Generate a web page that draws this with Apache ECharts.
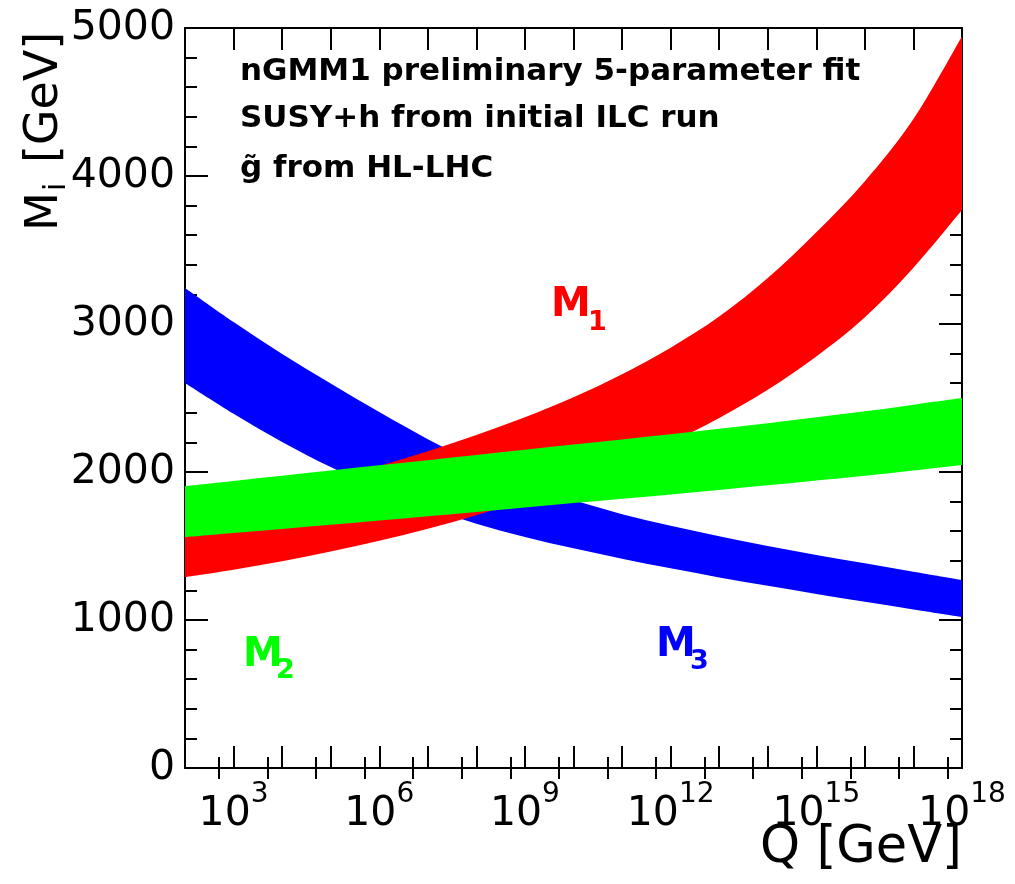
<!DOCTYPE html>
<html>
<head>
<meta charset="utf-8">
<script src="https://cdn.jsdelivr.net/npm/echarts@6/dist/echarts.min.js"></script>
<style>
  html, body { margin: 0; padding: 0; background: #fff; }
  #chart { width: 1015px; height: 884px; }
</style>
</head>
<body>
<div id="chart"></div>
<script>
// Scale Q as log10(Q / GeV)
const logQ = [2, 3, 4, 5, 6, 7, 8, 9, 10, 11, 12, 13, 14, 15, 16, 17, 18];

// M1 band (GeV)
const m1Upper = [1710, 1785, 1862, 1945, 2040, 2140, 2250, 2370, 2505, 2660, 2840, 3050, 3310, 3620, 3965, 4385, 4945];
const m1Lower = [1290, 1340, 1397, 1462, 1535, 1617, 1708, 1810, 1925, 2055, 2200, 2365, 2555, 2780, 3045, 3380, 3770];

// M2 band (GeV)
const m2Upper = [1905, 1940, 1975, 2010, 2045, 2080, 2115, 2150, 2185, 2220, 2255, 2292, 2330, 2370, 2410, 2455, 2500];
const m2Lower = [1560, 1588, 1615, 1643, 1672, 1701, 1730, 1760, 1790, 1819, 1848, 1879, 1910, 1942, 1975, 2010, 2047];

// M3 band (GeV)
const m3Upper = [3243, 3013, 2798, 2598, 2405, 2222, 2062, 1925, 1810, 1715, 1636, 1566, 1500, 1440, 1383, 1326, 1270];
const m3Lower = [2601, 2393, 2203, 2033, 1885, 1758, 1651, 1561, 1484, 1414, 1349, 1288, 1231, 1176, 1123, 1071, 1020];

// Labelled decades on the Q axis
const labelledExponents = [3, 6, 9, 12, 15, 18];

// Small ticks at 5·10^n
const minorTicks = logQ.slice(0, -1).map(n => n + Math.log10(5));

const FONT = '"DejaVu Sans", "Liberation Sans", Arial, sans-serif';
const BLACK = '#000';

// Smooth curve through pixel points (Catmull-Rom written as cubic Beziers)
function curveThrough(pts) {
  let d = '';
  for (let i = 0; i < pts.length - 1; i++) {
    const p0 = pts[Math.max(i - 1, 0)];
    const p1 = pts[i];
    const p2 = pts[i + 1];
    const p3 = pts[Math.min(i + 2, pts.length - 1)];
    const c1x = p1[0] + (p2[0] - p0[0]) / 6, c1y = p1[1] + (p2[1] - p0[1]) / 6;
    const c2x = p2[0] - (p3[0] - p1[0]) / 6, c2y = p2[1] - (p3[1] - p1[1]) / 6;
    d += ' C' + c1x + ' ' + c1y + ' ' + c2x + ' ' + c2y + ' ' + p2[0] + ' ' + p2[1];
  }
  return d;
}

// One filled band between a lower and an upper curve
function band(name, lower, upper, color) {
  return {
    type: 'custom',
    name: name,
    silent: true,
    clip: true,
    data: logQ.map((x, i) => [x, lower[i], upper[i]]),
    encode: { x: 0, y: [1, 2] },
    renderItem: function (params, api) {
      if (params.dataIndex !== 0) return null;
      const top = logQ.map((x, i) => api.coord([x, upper[i]]));
      const bottom = logQ.map((x, i) => api.coord([x, lower[i]])).reverse();
      const d = 'M' + top[0][0] + ' ' + top[0][1] + curveThrough(top) +
        ' L' + bottom[0][0] + ' ' + bottom[0][1] + curveThrough(bottom) + ' Z';
      return {
        type: 'path',
        shape: { pathData: d },
        style: { fill: color, stroke: null }
      };
    }
  };
}

const tickLine = { color: BLACK, width: 2 };

function xAxisBase(position, extra) {
  return Object.assign({
    type: 'value', position: position, min: 2, max: 18, interval: 1,
    splitLine: { show: false },
    axisLine: { show: true, onZero: false, lineStyle: { color: BLACK, width: 2 } },
    axisTick: { show: true, inside: true, length: 22, lineStyle: tickLine },
    axisLabel: { show: false }
  }, extra || {});
}

function yAxisBase(position, extra) {
  return Object.assign({
    type: 'value', position: position, min: 0, max: 5000, interval: 1000,
    splitLine: { show: false },
    axisLine: { show: true, onZero: false, lineStyle: { color: BLACK, width: 2 } },
    axisTick: { show: true, inside: true, length: 23, lineStyle: tickLine },
    minorTick: { show: true, splitNumber: 5, length: 12, lineStyle: tickLine },
    axisLabel: { show: false }
  }, extra || {});
}

function text(x, y, str, font, color, align, extra) {
  return Object.assign({
    type: 'text', x: x, y: y,
    style: { text: str, font: font, fill: color, textAlign: align, textVerticalAlign: 'middle', align: align, verticalAlign: 'middle' }
  }, extra || {});
}

const chart = echarts.init(document.getElementById('chart'), null, { renderer: 'canvas' });

chart.setOption({
  animation: false,
  backgroundColor: '#fff',
  grid: { left: 185, right: 53, top: 28, bottom: 116, containLabel: false },
  xAxis: [
    xAxisBase('bottom', {
      axisLabel: {
        show: true, margin: 13, showMinLabel: true, showMaxLabel: true,
        formatter: v => labelledExponents.indexOf(Math.round(v)) >= 0 ? '{b|10}{s|' + Math.round(v) + '}' : '',
        rich: {
          b: { fontFamily: FONT, fontSize: 41, color: BLACK, verticalAlign: 'bottom', lineHeight: 54 },
          s: { fontFamily: FONT, fontSize: 28, color: BLACK, verticalAlign: 'top' }
        }
      }
    }),
    xAxisBase('bottom', {
      axisLine: { show: false },
      axisTick: { show: true, inside: true, length: 11, lineStyle: tickLine, customValues: minorTicks }
    }),
    xAxisBase('top'),
    xAxisBase('top', {
      axisLine: { show: false },
      axisTick: { show: true, inside: true, length: 11, lineStyle: tickLine, customValues: minorTicks }
    })
  ],
  yAxis: [
    yAxisBase('left', {
      axisLabel: { show: true, margin: 10, fontFamily: FONT, fontSize: 41, color: BLACK, formatter: v => String(v) }
    }),
    yAxisBase('right')
  ],
  series: [
    band('M3', m3Lower, m3Upper, '#0000ff'),
    band('M1', m1Lower, m1Upper, '#ff0000'),
    band('M2', m2Lower, m2Upper, '#00ff00')
  ],
  graphic: [
    // fit description
    text(240, 72, 'nGMM1 preliminary 5-parameter fit', 'bold 31px ' + FONT, BLACK, 'left'),
    text(240, 119, 'SUSY+h from initial ILC run', 'bold 31px ' + FONT, BLACK, 'left'),
    text(240, 169, 'g\u0303 from HL-LHC', 'bold 31px ' + FONT, BLACK, 'left'),

    // band labels
    text(551, 306, 'M', 'bold 40px ' + FONT, '#ff0000', 'left'),
    text(588, 323, '1', 'bold 27px ' + FONT, '#ff0000', 'left'),
    text(243, 656, 'M', 'bold 40px ' + FONT, '#00ff00', 'left'),
    text(276, 671, '2', 'bold 27px ' + FONT, '#00ff00', 'left'),
    text(656, 646, 'M', 'bold 40px ' + FONT, '#0000ff', 'left'),
    text(690, 662, '3', 'bold 27px ' + FONT, '#0000ff', 'left'),

    // axis titles
    text(962, 849, 'Q [GeV]', '51px ' + FONT, BLACK, 'right'),
    text(45, 231, 'M', '45px ' + FONT, BLACK, 'left', { rotation: Math.PI / 2 }),
    text(57, 191, 'i', '30px ' + FONT, BLACK, 'left', { rotation: Math.PI / 2 }),
    text(45, 163, '[GeV]', '46px ' + FONT, BLACK, 'left', { rotation: Math.PI / 2 })
  ]
});
</script>
</body>
</html>
